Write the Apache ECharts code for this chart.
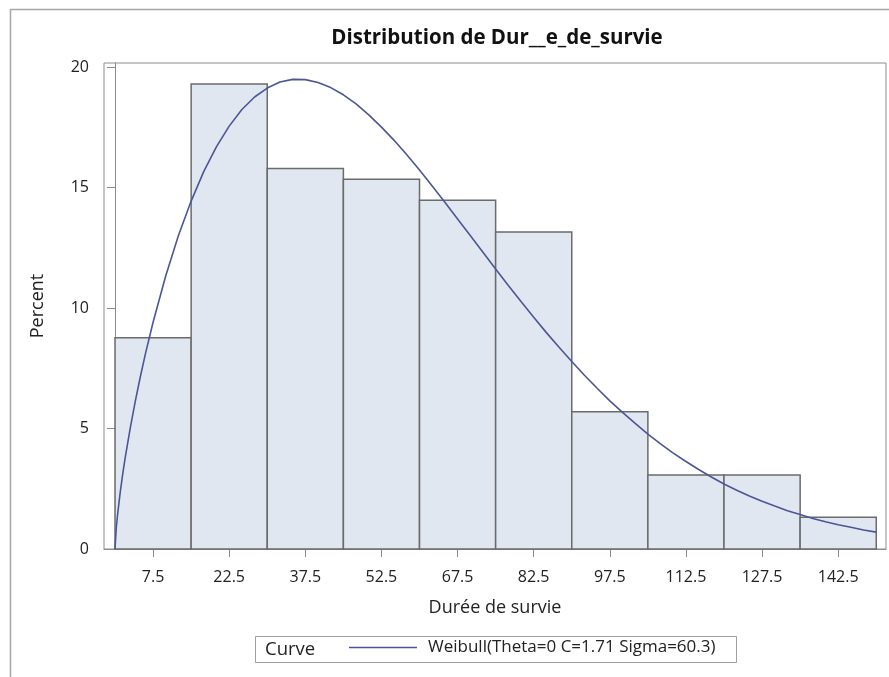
<!DOCTYPE html>
<html>
<head>
<meta charset="utf-8">
<title>Distribution de Dur__e_de_survie</title>
<script src="https://cdn.jsdelivr.net/npm/echarts@6/dist/echarts.min.js"></script>
<style>
  html, body { margin: 0; padding: 0; background: #ffffff; }
  #chart { width: 889px; height: 677px; }
</style>
</head>
<body>
<div id="chart"></div>
<script>
// Histogram bins (lower edge, upper edge) and percent of observations per bin
const binEdges = [0, 15, 30, 45, 60, 75, 90, 105, 120, 135, 150];
const binPercents = [8.77, 19.30, 15.79, 15.35, 14.47, 13.16, 5.70, 3.07, 3.07, 1.32];

// Tick labels at the bin midpoints and on the percent axis
const xTickValues = [7.5, 22.5, 37.5, 52.5, 67.5, 82.5, 97.5, 112.5, 127.5, 142.5];
const yTickValues = [0, 5, 10, 15, 20];

// Fitted Weibull density curve, as percent per bin width
const curveX = [0, 0.25, 0.5, 1, 1.5, 2, 3, 4, 5, 6, 7.5, 10, 12.5, 15, 17.5, 20, 22.5, 25, 27.5, 30,
                32.5, 35, 37.5, 40, 42.5, 45, 47.5, 50, 52.5, 55, 57.5, 60, 62.5, 65, 67.5, 70, 72.5,
                75, 77.5, 80, 82.5, 85, 87.5, 90, 92.5, 95, 97.5, 100, 102.5, 105, 107.5, 110, 112.5,
                115, 117.5, 120, 122.5, 125, 127.5, 130, 132.5, 135, 137.5, 140, 142.5, 145, 147.5, 150];
const curveY = [0, 0.87, 1.42, 2.31, 3.09, 3.78, 5.02, 6.14, 7.16, 8.11, 9.41, 11.34, 13.01, 14.44,
                15.67, 16.70, 17.55, 18.24, 18.76, 19.13, 19.38, 19.49, 19.48, 19.36, 19.15, 18.85,
                18.47, 18.02, 17.51, 16.96, 16.36, 15.73, 15.07, 14.39, 13.70, 13.01, 12.32, 11.62,
                10.94, 10.27, 9.62, 8.98, 8.37, 7.78, 7.21, 6.67, 6.15, 5.67, 5.21, 4.77, 4.36, 3.98,
                3.63, 3.30, 2.99, 2.70, 2.44, 2.20, 1.98, 1.78, 1.59, 1.43, 1.27, 1.13, 1.01, 0.90,
                0.79, 0.70];

const curveName = 'Weibull(Theta=0 C=1.71 Sigma=60.3)';
const FONT = '"Open Sans", "DejaVu Sans", sans-serif';

const histData = binPercents.map((p, i) => [binEdges[i], binEdges[i + 1], p]);
const curveData = curveX.map((x, i) => [x, curveY[i]]);

const chart = echarts.init(document.getElementById('chart'), null, { renderer: 'canvas' });

chart.setOption({
  backgroundColor: '#ffffff',
  animation: false,
  title: {
    text: 'Distribution de Dur__e_de_survie',
    left: 492,
    top: 23,
    textAlign: 'center',
    textStyle: { fontFamily: FONT, fontWeight: 'bold', fontSize: 20.5, color: '#111111' }
  },
  grid: {
    left: 104, right: 3, top: 63, bottom: 128,
    show: true, borderColor: '#8c8c8c', borderWidth: 1, backgroundColor: 'transparent'
  },
  xAxis: {
    type: 'value',
    min: -2.17,
    max: 151.92,
    name: 'Durée de survie',
    nameLocation: 'middle',
    nameGap: 50,
    nameTextStyle: { fontFamily: FONT, fontSize: 18, color: '#222222' },
    axisLine: { show: true, lineStyle: { color: '#8c8c8c', width: 1 } },
    axisTick: { show: true, inside: false, length: 8, lineStyle: { color: '#8c8c8c' }, customValues: xTickValues },
    axisLabel: { show: true, margin: 20, fontFamily: FONT, fontSize: 16, color: '#222222', customValues: xTickValues },
    splitLine: { show: false }
  },
  yAxis: {
    type: 'value',
    min: 0,
    max: 20.17,
    name: 'Percent',
    nameLocation: 'middle',
    nameGap: 57,
    nameRotate: 90,
    nameTextStyle: { fontFamily: FONT, fontSize: 18, color: '#222222' },
    axisLine: { show: true, lineStyle: { color: '#8c8c8c', width: 1 } },
    axisTick: { show: true, inside: false, length: 8, lineStyle: { color: '#8c8c8c' }, customValues: yTickValues },
    axisLabel: { show: true, margin: 15, fontFamily: FONT, fontSize: 16, color: '#222222', customValues: yTickValues },
    splitLine: { show: false }
  },
  legend: {
    show: true,
    data: [{ name: curveName, icon: 'rect' }],
    left: 349,
    top: 639,
    padding: 0,
    itemWidth: 68,
    itemHeight: 1.5,
    selectedMode: false,
    textStyle: { fontFamily: FONT, fontSize: 17, color: '#222222', padding: [0, 0, 0, 6] }
  },
  graphic: [
    // page border
    { type: 'line', shape: { x1: 10, y1: 9.5, x2: 889, y2: 9.5 }, style: { stroke: '#a6a6a6', lineWidth: 1.5 }, silent: true },
    { type: 'line', shape: { x1: 10.5, y1: 9, x2: 10.5, y2: 677 }, style: { stroke: '#a6a6a6', lineWidth: 1.5 }, silent: true },
    // legend frame and its heading
    { type: 'rect', shape: { x: 255.5, y: 636.5, width: 481, height: 26 }, style: { fill: 'transparent', stroke: '#a0a0a0', lineWidth: 1 }, silent: true, z: 0 },
    { type: 'text', x: 265, y: 650, style: { text: 'Curve', font: '18.5px ' + FONT, fill: '#222222', verticalAlign: 'middle' }, silent: true }
  ],
  series: [
    {
      name: 'Histogramme',
      type: 'custom',
      data: histData,
      encode: { x: [0, 1], y: 2 },
      renderItem: function (params, api) {
        const p0 = api.coord([api.value(0), api.value(2)]);
        const p1 = api.coord([api.value(1), 0]);
        return {
          type: 'rect',
          shape: { x: p0[0], y: p0[1], width: p1[0] - p0[0], height: p1[1] - p0[1] },
          style: { fill: '#e1e7f1', stroke: '#6b6b6b', lineWidth: 1.5 }
        };
      },
      z: 2
    },
    {
      name: curveName,
      type: 'line',
      data: curveData,
      smooth: false,
      showSymbol: false,
      symbol: 'none',
      lineStyle: { color: '#4b5694', width: 1.6 },
      itemStyle: { color: '#4b5694' },
      z: 3
    }
  ]
});
</script>
</body>
</html>
